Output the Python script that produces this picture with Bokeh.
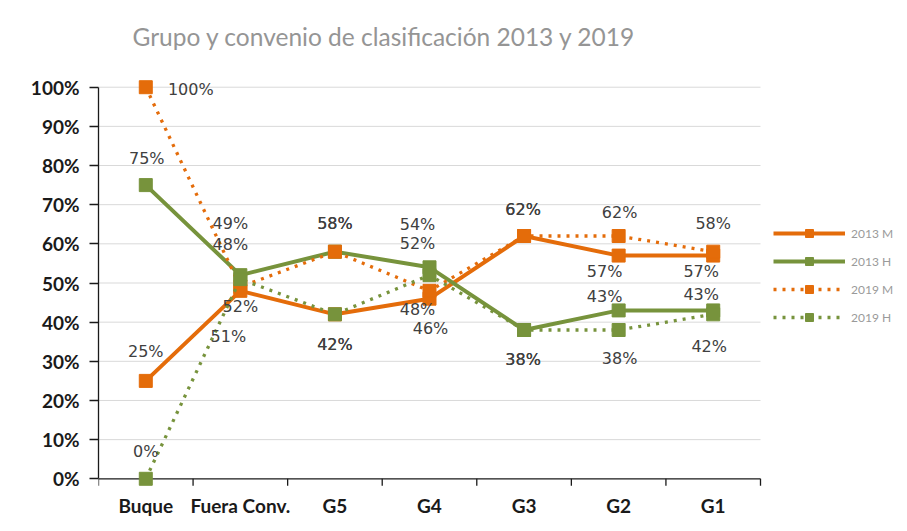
from bokeh.plotting import figure
from bokeh.models import (Range1d, FixedTicker, NumeralTickFormatter, Legend,
                          LegendItem, ColumnDataSource)
from bokeh.embed import file_html
from bokeh.resources import INLINE
from bokeh.core.properties import value

# ---------------- data ----------------
TITLE = "Grupo y convenio de clasificación 2013 y 2019"
categories = ["Buque", "Fuera Conv.", "G5", "G4", "G3", "G2", "G1"]
series_names = ["2013 M", "2013 H", "2019 M", "2019 H"]
m_2013 = [25, 48, 42, 46, 62, 57, 57]
h_2013 = [75, 52, 58, 54, 38, 43, 43]
m_2019 = [100, 49, 58, 48, 62, 62, 58]
h_2019 = [0, 51, 42, 52, 38, 38, 42]
y_ticks = [0, 10, 20, 30, 40, 50, 60, 70, 80, 90, 100]

# ---------------- styles ----------------
ORANGE = "#E46C0A"
GREEN = "#77933C"
LABEL_COLOR = "#404040"
AXIS_COLOR = "#1a1a1a"
# data-label offsets in pixels (dx right, dy up), per series, per category
label_dx = [
    [0, -10, 0, 1, -1, -14, -12],
    [1, 0, 0, -12, -1, -14, -12],
    [45, -10, 0, -12, -1, 1, 0],
    [0, -12, 0, -12, -1, 1, -4],
]
label_dy = [
    [29, 46, -30, -30, 27, -16, -16],
    [27, -31, 28, 43, -30, 14, 16],
    [-2, 63, 28, -19, 27, 24, 28],
    [27, -57, -30, 32, -30, -29, -32],
]

n = len(categories)
xs = [i + 0.5 for i in range(n)]

LEFT, TOP, BOTTOM = 98, 72, 32
FRAME_W, FRAME_H = 801, 419
AXIS_PX = 662                      # pixel length of the category axis
x_end = n * FRAME_W / AXIS_PX      # extra room on the right for the legend

p = figure(frame_width=FRAME_W, frame_height=FRAME_H,
           x_range=Range1d(0, x_end), y_range=Range1d(-0.035, 1.035),
           output_backend="svg", toolbar_location=None,
           min_border_left=LEFT, min_border_right=0,
           min_border_top=TOP, min_border_bottom=BOTTOM, title=TITLE)
p.outline_line_alpha = 0
p.background_fill_color = "white"
p.border_fill_color = "white"

p.title.text_font = "Lato"
p.title.text_font_size = "24.5px"
p.title.text_font_style = "normal"
p.title.text_color = "#959595"
p.title.align = "left"
p.title.vertical_align = "top"
p.title.offset = 34
p.title.standoff = 42

# x axis: labels only; line and boundary ticks drawn at y=0
p.xaxis.ticker = FixedTicker(ticks=xs)
p.xaxis.major_label_overrides = {x: c for x, c in zip(xs, categories)}
p.xaxis.axis_line_alpha = 0
p.xaxis.major_tick_out = 0
p.xaxis.major_tick_in = 0
p.xaxis.major_tick_line_alpha = 0
p.xaxis.minor_tick_line_alpha = 0
p.xaxis.major_label_standoff = 1
p.xaxis.major_label_text_font = "Lato"
p.xaxis.major_label_text_font_style = "bold"
p.xaxis.major_label_text_font_size = "19px"
p.xaxis.major_label_text_color = AXIS_COLOR
p.xgrid.visible = False
p.ygrid.visible = False

tick_vals = [t / 100 for t in y_ticks]
p.yaxis.ticker = FixedTicker(ticks=tick_vals)
p.yaxis.formatter = NumeralTickFormatter(format="0%")
p.yaxis.bounds = (0, 1)
p.yaxis.major_tick_out = 9
p.yaxis.major_tick_in = 0
p.yaxis.minor_tick_line_alpha = 0
p.yaxis.axis_line_color = AXIS_COLOR
p.yaxis.axis_line_width = 1.3
p.yaxis.major_tick_line_color = AXIS_COLOR
p.yaxis.major_tick_line_width = 1.3
p.yaxis.major_label_standoff = 10
p.yaxis.major_label_text_font = "Lato"
p.yaxis.major_label_text_font_style = "bold"
p.yaxis.major_label_text_font_size = "19px"
p.yaxis.major_label_text_color = AXIS_COLOR

# horizontal gridlines across the category span only
grid_y = tick_vals[1:]
p.segment(x0=[0] * len(grid_y), y0=grid_y, x1=[n] * len(grid_y), y1=grid_y,
          line_color="#d9d9d9", line_width=1)
# x axis line and boundary ticks at 0%
p.segment(x0=[0], y0=[0], x1=[n], y1=[0], line_color=AXIS_COLOR,
          line_width=1.3)
bounds = list(range(n + 1))
p.segment(x0=bounds, y0=[0] * len(bounds), x1=bounds,
          y1=[-0.018] * len(bounds), line_color=AXIS_COLOR, line_width=1.3)

specs = [
    (m_2013, ORANGE, False),
    (h_2013, GREEN, False),
    (m_2019, ORANGE, True),
    (h_2019, GREEN, True),
]
items = []
sources = []
for k, (vals, col, dotted) in enumerate(specs):
    src = ColumnDataSource(dict(
        x=xs, y=[v / 100 for v in vals], lab=[f"{v}%" for v in vals],
        dx=label_dx[k], dy=[-d for d in label_dy[k]]))
    sources.append(src)
    if dotted:
        ln = p.line("x", "y", source=src, line_color=col, line_width=3.3,
                    line_dash="3 6")
    else:
        ln = p.line("x", "y", source=src, line_color=col, line_width=4)
    mk = p.scatter("x", "y", source=src, marker="square", size=13,
                   fill_color=col, line_color=col)
    items.append(LegendItem(label=series_names[k], renderers=[ln, mk]))

for src in sources:
    p.text("x", "y", text="lab", source=src, x_offset="dx", y_offset="dy",
           text_align="center", text_baseline="middle",
           text_font=value("DejaVu Sans"), text_font_size="16px",
           text_color=LABEL_COLOR)

legend = Legend(items=items, location=(AXIS_PX + 13, 165), glyph_width=72,
                glyph_height=20, spacing=8, label_text_font="Lato",
                label_text_font_size="12px", label_text_color="#9a9a9a",
                padding=0, margin=0, border_line_alpha=0,
                background_fill_alpha=0, label_standoff=6)
p.add_layout(legend, "center")

open("out.html", "w").write(file_html(p, INLINE))
